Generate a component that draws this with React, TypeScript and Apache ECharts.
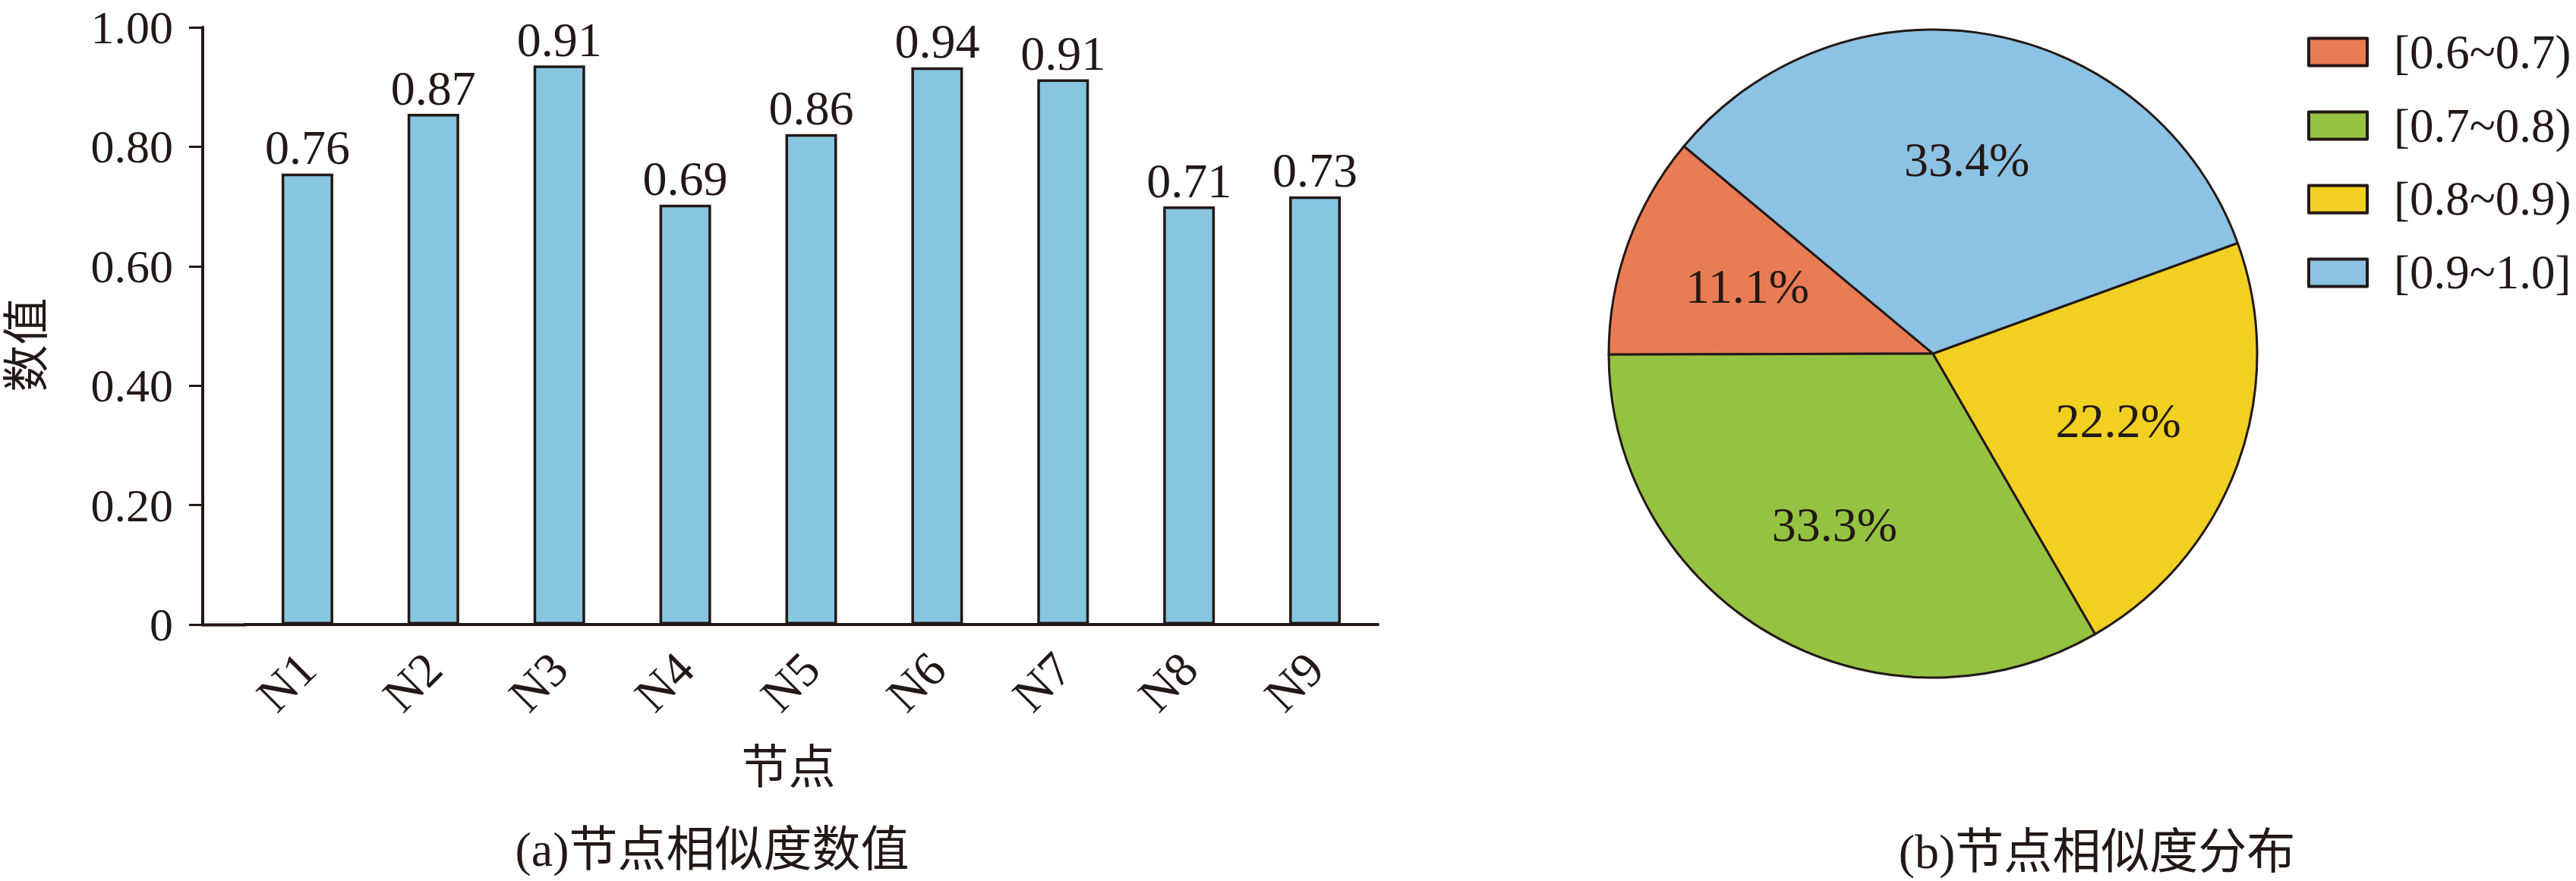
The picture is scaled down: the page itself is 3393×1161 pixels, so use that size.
import { useEffect, useRef } from 'react'
import * as echarts from 'echarts'

const nodes = ['N1', 'N2', 'N3', 'N4', 'N5', 'N6', 'N7', 'N8', 'N9']
// bar heights as drawn in the figure
const barHeights = [0.755, 0.855, 0.936, 0.703, 0.821, 0.933, 0.913, 0.7, 0.717]
// value labels printed above the bars
const barLabels = ['0.76', '0.87', '0.91', '0.69', '0.86', '0.94', '0.91', '0.71', '0.73']

const ranges = ['[0.6~0.7)', '[0.7~0.8)', '[0.8~0.9)', '[0.9~1.0]']
const shares = [11.1, 33.3, 22.2, 33.4]
const rangeColors = ['#E97C55', '#95C341', '#F1D022', '#8CC2E4']

const INK = '#231815'
const FONT = '"Liberation Serif", "Noto Sans CJK SC", serif'
const PIE_CX = 2546
const PIE_CY = 466

export default function App() {
  const ref = useRef<HTMLDivElement | null>(null)

  useEffect(() => {
    if (!ref.current) return
    const chart = echarts.init(ref.current, null, { renderer: 'svg' })

    const option = {
      animation: false,
      backgroundColor: '#fff',
      textStyle: { fontFamily: FONT, color: INK },
      grid: { left: 322, right: 1578, top: 36, bottom: 338 },
      xAxis: {
        type: 'category',
        data: nodes,
        name: '节点',
        nameLocation: 'middle',
        nameGap: 158,
        nameTextStyle: { fontSize: 62, color: INK, fontFamily: FONT, padding: [0, 60, 0, 0] },
        axisLine: { lineStyle: { color: INK, width: 4 } },
        axisTick: { alignWithLabel: true, length: 18, lineStyle: { color: INK, width: 3 } },
        axisLabel: { rotate: 45, margin: 48, fontSize: 64, color: INK, fontFamily: FONT }
      },
      yAxis: {
        type: 'value',
        min: 0,
        max: 1,
        interval: 0.2,
        offset: 55,
        name: '数值',
        nameLocation: 'middle',
        nameGap: 200,
        nameTextStyle: { fontSize: 62, color: INK, fontFamily: FONT, padding: [0, 50, 0, 0] },
        splitLine: { show: false },
        axisLine: { show: true, lineStyle: { color: INK, width: 4 } },
        axisTick: { show: true, length: 18, lineStyle: { color: INK, width: 3 } },
        axisLabel: {
          margin: 39,
          fontSize: 62,
          color: INK,
          fontFamily: FONT,
          formatter: (v: number) => (v === 0 ? '0' : v.toFixed(2))
        }
      },
      legend: {
        data: ranges,
        orient: 'vertical',
        left: 3034,
        top: 32,
        icon: 'rect',
        itemWidth: 77,
        itemHeight: 36,
        itemGap: 34,
        itemStyle: { borderColor: INK, borderWidth: 4 },
        textStyle: { fontSize: 63, color: INK, fontFamily: FONT, padding: [0, 0, 0, 30] }
      },
      graphic: [
        {
          type: 'line',
          shape: { x1: 265, y1: 823.5, x2: 324, y2: 823.5 },
          style: { stroke: INK, lineWidth: 4 }
        },
        {
          type: 'text',
          x: 938,
          y: 1119,
          style: {
            text: '(a)节点相似度数值',
            fontSize: 64,
            fontFamily: FONT,
            fill: INK,
            textAlign: 'center',
            textVerticalAlign: 'middle'
          }
        },
        {
          type: 'text',
          x: 2762,
          y: 1122,
          style: {
            text: '(b)节点相似度分布',
            fontSize: 64,
            fontFamily: FONT,
            fill: INK,
            textAlign: 'center',
            textVerticalAlign: 'middle'
          }
        }
      ],
      series: [
        {
          type: 'bar',
          data: barHeights,
          barWidth: 68,
          itemStyle: { color: '#87C5E0', borderColor: INK, borderWidth: 3.5 },
          label: {
            show: true,
            position: 'top',
            distance: 2,
            fontSize: 64,
            color: INK,
            fontFamily: FONT,
            formatter: (p: { dataIndex: number }) => barLabels[p.dataIndex]
          }
        },
        {
          type: 'pie',
          center: [PIE_CX, PIE_CY],
          radius: 427,
          clockwise: false,
          startAngle: 140.2,
          data: ranges.map((name, i) => ({
            name,
            value: shares[i],
            itemStyle: { color: rangeColors[i] }
          })),
          itemStyle: { borderColor: INK, borderWidth: 3 },
          label: {
            show: true,
            position: 'inside',
            fontSize: 64,
            color: INK,
            fontFamily: FONT,
            formatter: (p: { value: number }) => p.value.toFixed(1) + '%'
          },
          labelLine: { show: false },
          labelLayout: (p: { labelRect: { x: number; y: number; width: number; height: number } }) => {
            const lx = p.labelRect.x + p.labelRect.width / 2
            const ly = p.labelRect.y + p.labelRect.height / 2
            return { dx: (lx - PIE_CX) * 0.2, dy: (ly - PIE_CY) * 0.2 }
          },
          emphasis: { disabled: true }
        }
      ]
    }

    chart.setOption(option)
    return () => chart.dispose()
  }, [])

  return (
    <div
      ref={ref}
      style={{ position: 'absolute', left: 0, top: 0, width: 3393, height: 1161 }}
    />
  )
}
